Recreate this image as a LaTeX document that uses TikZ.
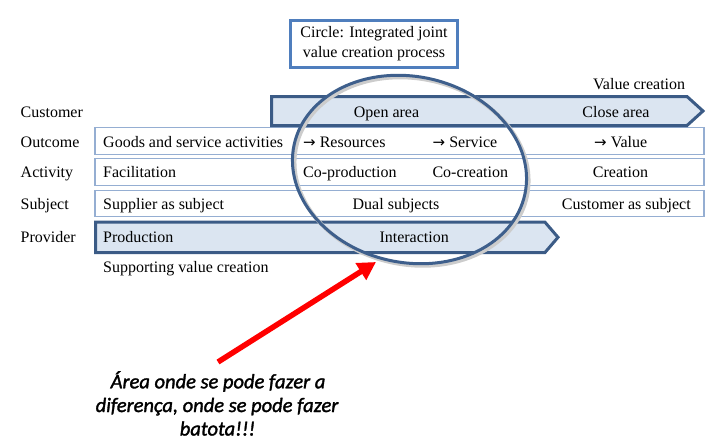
\documentclass[tikz,border=0pt]{standalone}
\usepackage{fontspec}
\setmainfont{Liberation Serif}
\newfontfamily\notefont{Carlito}[ItalicFeatures={FakeBold=1.6}]
\newfontfamily\arrfont{DejaVu Sans}
\usetikzlibrary{arrows.meta}
\definecolor{bandfill}{HTML}{DBE5F1}
\definecolor{banddraw}{HTML}{3B5B86}
\definecolor{rowdraw}{HTML}{95AED2}
\definecolor{titledraw}{HTML}{4F7EBD}
\definecolor{ringdraw}{HTML}{3E5F8C}
\newcommand{\rarr}{{\arrfont\fontsize{15}{19}\selectfont →}}
\begin{document}
\begin{tikzpicture}[x=1pt,y=-1pt,
  txt/.style={font=\fontsize{16}{19}\selectfont, inner sep=0pt, anchor=base west},
  ctxt/.style={font=\fontsize{16}{19}\selectfont, inner sep=0pt, anchor=base},
  rowbox/.style={draw=rowdraw, line width=1.5pt, fill=white},
  band/.style={draw=banddraw, line width=3pt, fill=bandfill, line join=miter},
  titlebox/.style={draw=titledraw, line width=3pt, fill=white, inner sep=0pt,
    minimum width=167pt, minimum height=47pt, align=center,
    font=\fontsize{16}{20}\selectfont},
  ring/.style={draw=ringdraw, line width=3pt},
  ringshade/.style={draw=gray!40, line width=4pt},
  redarrow/.style={draw=red, line width=5.5pt, -{Triangle[length=18pt,width=19pt]}},
  note/.style={font=\notefont\itshape\fontsize{20.5}{23.5}\selectfont, inner sep=0pt, anchor=base}]
\useasboundingbox (0,0) rectangle (715,445);

% title box
\node[titlebox] (title) at (374,43.5) {Circle: Integrated joint\\value creation process};

% row boxes
\draw[rowbox] (95,127.5) rectangle (704,154.5);
\draw[rowbox] (95,158.5) rectangle (704,185.5);
\draw[rowbox] (95,190.5) rectangle (704,216.5);

% customer band
\draw[band] (271.5,96.5) coordinate (cbA) -- (687,96.5) -- (703,111) coordinate (ctip)
  -- (687,125.5) -- (271.5,125.5) -- cycle;
% provider band
\draw[band] (95.5,222.2) coordinate (pbA) -- (545,222.2) -- (558,237.3) coordinate (ptip)
  -- (545,252.5) -- (95.5,252.5) -- cycle;

% ring
\draw[ringshade, rotate around={-12:(411.5,171.5)}] (411.5,171.5) ellipse [x radius=118, y radius=93];
\draw[ring, rotate around={-12:(409.5,169.5)}] (409.5,169.5) ellipse [x radius=118, y radius=93];

% labels
\node[txt] (lcust) at (20.5,117) {Customer};
\node[txt] (lout) at (20.5,147) {Outcome};
\node[txt] (lact) at (20.5,177.5) {Activity};
\node[txt] (lsub) at (20.5,209) {Subject};
\node[txt] (lprov) at (20.5,242.5) {Provider};

\node[txt] (vc) at (593,89) {Value creation};
\node[ctxt] (open) at (386.5,117) {Open area};
\node[ctxt] (close) at (616,117) {Close area};

\node[txt] (goods) at (103,147) {Goods and service activities};
\node[txt] (res) at (303,147) {\rarr\ Resources};
\node[txt] (serv) at (432.5,147) {\rarr\ Service};
\node[txt] (val) at (594,147) {\rarr\ Value};

\node[txt] (fac) at (103,177.5) {Facilitation};
\node[txt] (coprod) at (303,177.5) {Co-production};
\node[txt] (cocre) at (432.3,177.5) {Co-creation};
\node[ctxt] (cre) at (620.5,177.5) {Creation};

\node[txt] (supp) at (103,209) {Supplier as subject};
\node[ctxt] (dual) at (396,209) {Dual subjects};
\node[txt] (custsub) at (561.7,209) {Customer as subject};

\node[txt] (prod) at (103,242.5) {Production};
\node[txt] (inter) at (379.3,242.5) {Interaction};

\node[txt] (supval) at (103,272) {Supporting value creation};

% red arrow and note
\coordinate (tail) at (218,362);
\coordinate (head) at (376,262);
\draw[redarrow] (tail) -- (head);

\node[note] (note1) at (218,388.3) {Área onde se pode fazer a};
\node[note] (note2) at (217,412) {diferença, onde se pode fazer};
\node[note] (note3) at (217.5,435.5) {batota!!!};
\end{tikzpicture}
\end{document}
